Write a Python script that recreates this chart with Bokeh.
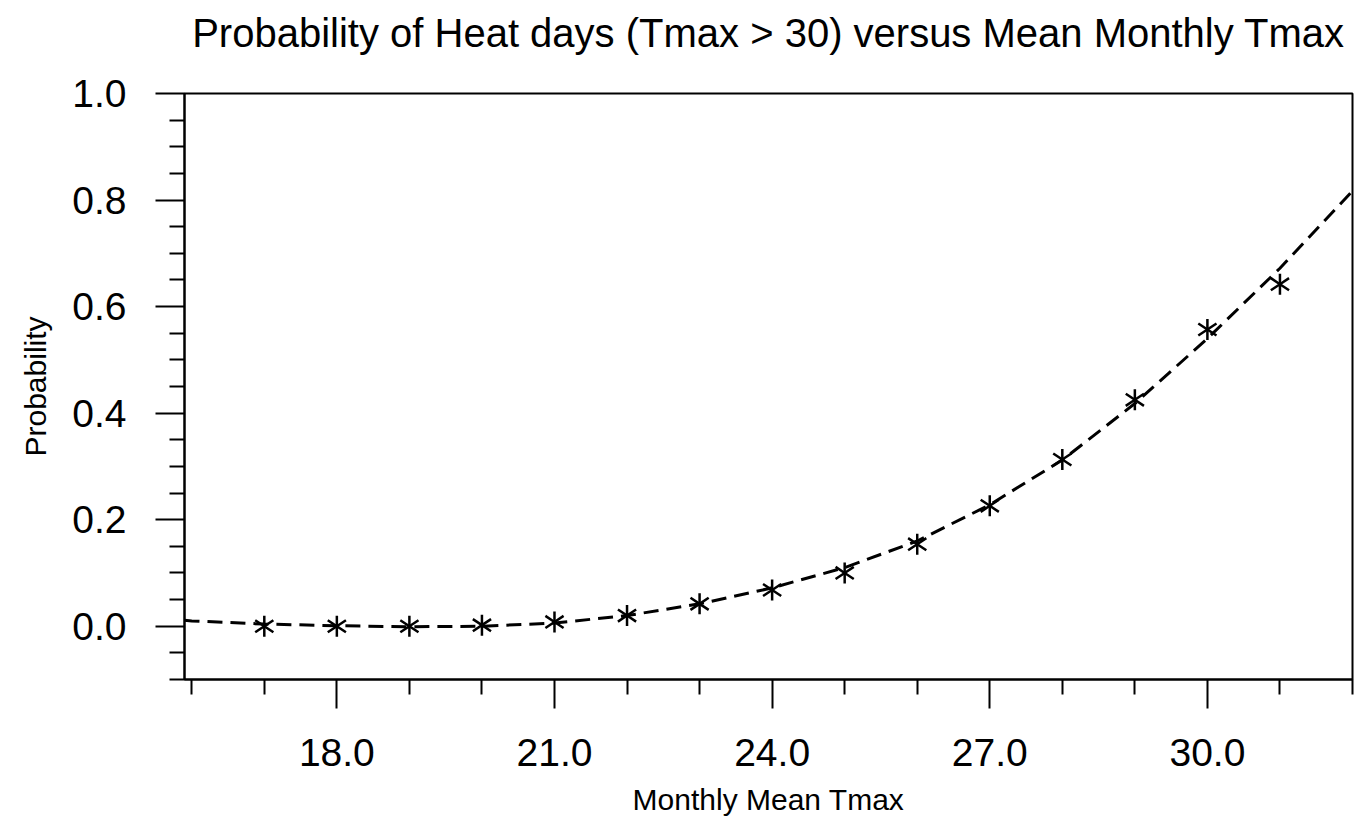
from bokeh.plotting import figure
from bokeh.models import FixedTicker, PrintfTickFormatter, Range1d, LinearAxis
from bokeh.embed import file_html
from bokeh.resources import INLINE

# Observed probabilities (asterisks)
x_obs = [17, 18, 19, 20, 21, 22, 23, 24, 25, 26, 27, 28, 29, 30, 31]
p_obs = [0.0, 0.0, 0.0, 0.002, 0.008, 0.020, 0.042, 0.068, 0.100, 0.154,
         0.226, 0.313, 0.425, 0.557, 0.642]

# Fitted curve (dashed)
x_fit = [15.9, 16, 17, 18, 19, 20, 21, 22, 23, 24, 25, 26, 27, 28, 29, 30, 31, 32]
p_fit = [0.011, 0.010, 0.004, 0.001, -0.001, 0.0, 0.006, 0.020, 0.042, 0.072,
         0.110, 0.160, 0.228, 0.312, 0.418, 0.540, 0.672, 0.817]

x_major = [18, 21, 24, 27, 30]
x_minor = [16, 17, 19, 20, 22, 23, 25, 26, 28, 29, 31, 32]
y_major = [0.0, 0.2, 0.4, 0.6, 0.8, 1.0]
y_minor = [-0.1, -0.05, 0.05, 0.1, 0.15, 0.25, 0.3, 0.35, 0.45, 0.5, 0.55,
           0.65, 0.7, 0.75, 0.85, 0.9, 0.95]

TITLE = "Probability of Heat days (Tmax > 30) versus Mean Monthly Tmax"
FONT = "Liberation Sans"

p = figure(width=1354, height=818, output_backend="svg", toolbar_location=None,
           x_range=Range1d(15.9, 32), y_range=Range1d(-0.1, 1.0),
           min_border_left=184, min_border_right=2, min_border_top=93,
           min_border_bottom=139)

xax = p.below[0]
yax = p.left[0]

p.grid.visible = False
p.outline_line_color = "black"
p.outline_line_width = 2
p.background_fill_color = "white"
p.border_fill_color = "white"

for ax in (xax, yax):
    ax.axis_line_color = "black"
    ax.axis_line_width = 2
    ax.major_tick_line_width = 2
    ax.minor_tick_line_width = 2
    ax.major_tick_line_color = "black"
    ax.minor_tick_line_color = "black"
    ax.major_tick_in = 0
    ax.minor_tick_in = 0
    ax.major_tick_out = 29
    ax.minor_tick_out = 15
    ax.major_label_text_font = FONT
    ax.major_label_text_font_size = "39px"
    ax.major_label_text_color = "black"
    ax.axis_label_text_font = FONT
    ax.axis_label_text_font_size = "30px"
    ax.axis_label_text_font_style = "normal"
    ax.axis_label_text_color = "black"
    ax.formatter = PrintfTickFormatter(format="%.1f")

xax.ticker = FixedTicker(ticks=x_major, minor_ticks=x_minor)
yax.ticker = FixedTicker(ticks=y_major, minor_ticks=y_minor)
xax.axis_label = "Monthly Mean Tmax"
yax.axis_label = "Probability"
xax.major_label_standoff = 30
yax.major_label_standoff = 29
xax.axis_label_standoff = 14
yax.axis_label_standoff = 17

# title as the label of a tick-less axis above the frame
top_axis = LinearAxis(ticker=FixedTicker(ticks=[]), axis_label=TITLE,
                      axis_line_color=None, major_tick_out=0, minor_tick_out=0,
                      major_tick_in=0, minor_tick_in=0,
                      major_tick_line_color=None, minor_tick_line_color=None,
                      major_label_text_font_size="0px", major_label_standoff=0,
                      axis_label_standoff=39, axis_label_text_font=FONT,
                      axis_label_text_font_size="40px",
                      axis_label_text_font_style="normal",
                      axis_label_text_color="black")
p.add_layout(top_axis, "above")

p.line(x_fit, p_fit, line_color="black", line_width=3, line_dash="15 8")

p.scatter(x_obs, p_obs, marker="y", size=21, line_color="black", line_width=2.5)
p.scatter(x_obs, p_obs, marker="y", size=21, angle=3.14159265, line_color="black",
          line_width=2.5)

open("out.html", "w").write(file_html(p, INLINE))
